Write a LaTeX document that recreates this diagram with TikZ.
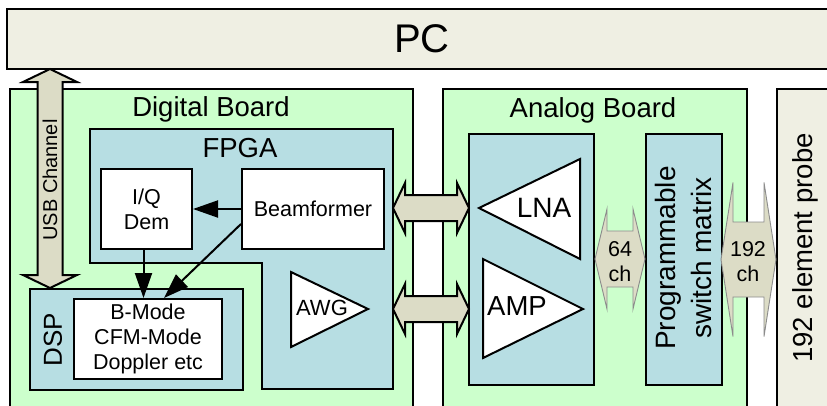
\documentclass[tikz,border=0pt]{standalone}
\usepackage{fontspec}
\setmainfont{Liberation Sans}
\usetikzlibrary{arrows.meta,calc}

\definecolor{boardgreen}{HTML}{CCFFCC}
\definecolor{chipblue}{HTML}{B7DEE3}
\definecolor{hostbeige}{HTML}{EFEFE3}
\definecolor{busfill}{HTML}{DCDCC6}

% horizontal double bus arrow: style, x1, x2, y centre, shaft half, head half, head length
\newcommand{\fatbusH}[7]{%
  \draw[#1] (#2,#4) -- ({#2+#7},{#4-#6}) -- ({#2+#7},{#4-#5}) -- ({#3-#7},{#4-#5})
    -- ({#3-#7},{#4-#6}) -- (#3,#4) -- ({#3-#7},{#4+#6}) -- ({#3-#7},{#4+#5})
    -- ({#2+#7},{#4+#5}) -- ({#2+#7},{#4+#6}) -- cycle;}
% vertical double bus arrow: style, y1, y2, x centre, shaft half, head half, head length
\newcommand{\fatbusV}[7]{%
  \draw[#1] (#4,#2) -- ({#4+#6},{#2+#7}) -- ({#4+#5},{#2+#7}) -- ({#4+#5},{#3-#7})
    -- ({#4+#6},{#3-#7}) -- (#4,#3) -- ({#4-#6},{#3-#7}) -- ({#4-#5},{#3-#7})
    -- ({#4-#5},{#2+#7}) -- ({#4-#6},{#2+#7}) -- cycle;}

\begin{document}
\begin{tikzpicture}[x=1pt,y=-1pt,
  outline/.style={draw,line width=2pt,inner sep=0pt,anchor=north west},
  board/.style={outline,fill=boardgreen},
  chip/.style={outline,fill=chipblue},
  host/.style={outline,fill=hostbeige},
  block/.style={outline,fill=white},
  title/.style={anchor=base,font=\fontsize{27.5}{32}\selectfont},
  small/.style={align=center,font=\fontsize{21.5}{25}\selectfont},
  amp/.style={draw,line width=2pt,fill=white,line join=miter},
  conn/.style={line width=2pt,-{Triangle[length=25pt,width=17pt]}},
  bus/.style={draw,line width=2pt,fill=busfill,line join=miter},
  thinbus/.style={draw=black!45,line width=0.9pt,fill=busfill,line join=miter}]

\useasboundingbox (0,0) rectangle (827,405);
\fill[white] (0,0) rectangle (827,405);
\clip (0,0) rectangle (827,405);

% host computer
\node[host,minimum width=840pt,minimum height=60pt] (pc) at (6,8) {};
\node[anchor=base,font=\fontsize{40}{48}\selectfont] (pclbl) at (422,52) {PC};

% digital board
\node[board,minimum width=403pt,minimum height=330pt] (dig) at (9,88) {};
\node[title] (diglbl) at (211,116) {Digital Board};

% FPGA region (L-shaped)
\draw[line width=2pt,fill=chipblue,line join=miter]
  (90,129) -- (393,129) -- (393,389) -- (262,389) -- (262,263) -- (90,263) -- cycle;
\node[title] (fpgalbl) at (240,157) {FPGA};

\node[block,minimum width=91pt,minimum height=80pt] (iq) at (100,168) {};
\node[small] at (iq.center) {I/Q\\Dem};
\node[block,minimum width=142pt,minimum height=80pt] (bf) at (241,168) {};
\node[small] at (bf.center) {Beamformer};

% AWG
\draw[amp] (291,272) -- (368,309) -- (291,347) -- cycle;
\node[anchor=base,font=\fontsize{22}{26}\selectfont] (awg) at (322,315) {AWG};

% DSP
\node[chip,minimum width=213pt,minimum height=101pt] (dsp) at (29,288) {};
\node[rotate=90,font=\fontsize{26}{30}\selectfont] (dsplbl) at (53,340) {DSP};
\node[block,minimum width=148pt,minimum height=80pt] (modes) at (73,298) {};
\node[small] at (modes.center) {B-Mode\\CFM-Mode\\Doppler etc};

% FPGA internal data paths
\draw[conn] (bf.west) -- (iq.east);
\draw[conn] ([xshift=-3pt]iq.south) -- ([xshift=-3pt]iq.south |- modes.north);
\draw[conn] ($(bf.west)+(0,15)$) -- ($(modes.north)+(16,0)$);

% analog board
\node[board,minimum width=304pt,minimum height=330pt] (ana) at (442,88) {};
\node[title] (analbl) at (593,117) {Analog Board};
\node[chip,minimum width=125pt,minimum height=251pt] (afe) at (468,133) {};
\draw[amp] (479,208) -- (580,159) -- (580,259) -- cycle;
\node[anchor=base,font=\fontsize{28}{32}\selectfont] (lna) at (544,217) {LNA};
\draw[amp] (483,259) -- (583,309) -- (483,358) -- cycle;
\node[anchor=base,font=\fontsize{27.5}{32}\selectfont] (ampl) at (517,315) {AMP};

\node[chip,minimum width=76pt,minimum height=251pt] (sw) at (645,133) {};
\node[rotate=90,align=center,font=\fontsize{28}{36}\selectfont] (swlbl) at (683,258)
  {Programmable\\switch matrix};

% probe
\node[host,minimum width=70pt,minimum height=330pt] (probe) at (776,88) {};
\node[rotate=90,font=\fontsize{27.5}{32}\selectfont] (problbl) at (805,248) {192 element probe};

% buses
\fatbusV{bus}{69}{288}{50}{12.5}{27}{13}
\node[rotate=90,font=\fontsize{20}{24}\selectfont] (usb) at (50,180) {USB Channel};

\fatbusH{bus}{393}{469}{208}{13}{25}{12}
\fatbusH{bus}{393}{469}{309}{13}{25}{12}

\fatbusH{thinbus}{595}{645}{259}{28}{50}{12}
\node[small] (ch64) at (620,262) {64\\ch};
\fatbusH{thinbus}{721}{776}{259.5}{37.5}{77}{12}
\node[small] (ch192) at (748,262) {192\\ch};

\end{tikzpicture}
\end{document}
